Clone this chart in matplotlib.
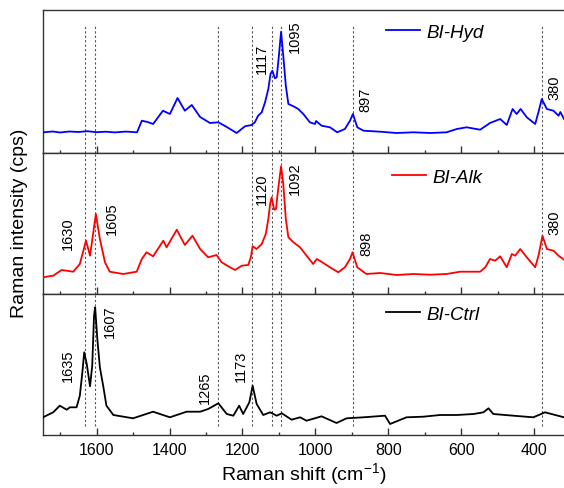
import matplotlib
matplotlib.use("Agg")
import matplotlib.pyplot as plt
from matplotlib.ticker import MultipleLocator

plt.rcParams['font.family'] = ['Liberation Sans', 'DejaVu Sans']
plt.rcParams['mathtext.fontset'] = 'custom'
plt.rcParams['mathtext.rm'] = 'Liberation Sans'
plt.rcParams['mathtext.default'] = 'regular'

# ---------------- data ----------------
hyd_x = [1747, 1720, 1700, 1675, 1650, 1625, 1600, 1575, 1550, 1520, 1489, 1476, 1460, 1445,
         1418, 1399, 1378, 1358, 1339, 1316, 1289, 1266, 1243, 1216, 1193, 1175, 1166, 1157,
         1147, 1138, 1129, 1123, 1118, 1111, 1106, 1100, 1094, 1088, 1081, 1074, 1060, 1047,
         1033, 1015, 1001, 998, 983, 960, 940, 919, 905, 897, 885, 868, 822, 777, 731, 685,
         640, 612, 585, 548, 521, 493, 475, 459, 448, 437, 420, 397, 388, 379, 365, 347, 333,
         328, 318]
hyd_y = [20.7, 21.5, 20.5, 21.5, 21, 21.8, 20.8, 21.3, 20.6, 21.4, 20.7, 32.3, 31, 29,
         42.3, 39, 55, 42.3, 48, 36, 30, 30.7, 26, 20, 26.7, 28, 30.7, 37.3,
         40.7, 50.7, 64, 79, 82.3, 74.7, 75.7, 97.3, 121.3, 97.3, 67.3, 49, 46.7, 44,
         39, 30.7, 29, 32, 27.3, 25.7, 20.7, 24, 32.3, 39, 25.7, 22.3, 21.3, 20, 20.7, 20,
         20.7, 24, 25.7, 23.3, 30, 34, 28, 44, 39, 44, 35.7, 29, 41, 54, 44, 42.3, 37.3,
         41, 34]

alk_x = [1747, 1719, 1696, 1664, 1646, 1629, 1618, 1602, 1591, 1577, 1564, 1527, 1490,
         1476, 1463, 1445, 1417, 1408, 1380, 1358, 1337, 1316, 1294, 1271, 1257, 1234,
         1220, 1202, 1184, 1177, 1172, 1161, 1147, 1136, 1129, 1124, 1120, 1113, 1108,
         1102, 1094, 1088, 1081, 1074, 1060, 1042, 1024, 1006, 996, 978, 960, 937, 919,
         905, 898, 885, 860, 822, 777, 731, 685, 640, 603, 548, 534, 521, 507, 493, 475,
         461, 452, 438, 420, 397, 388, 377, 365, 347, 333, 318]
alk_y = [16.7, 18.3, 24, 22.3, 30, 53.3, 38.3, 80, 55, 31.7, 22.3, 20, 22.3,
         35, 41.7, 37.7, 53.3, 46.7, 64.3, 49, 58.3, 45, 36.7, 39, 31.7, 26.7,
         24, 28.3, 29, 36.7, 47.7, 45, 50, 60, 75, 90, 96.7, 84.3, 85,
         105, 127.7, 110, 75, 56.7, 51.7, 46.7, 38.3, 30, 35, 31, 26.7, 21.7, 26.7,
         35, 41.7, 26.7, 20, 21, 19, 20, 19.3, 20, 22.3, 22.3, 26.7, 35, 33.3, 37.7, 26.7,
         40, 38.3, 45, 36.7, 26.7, 38.3, 58.3, 45, 43.3, 38.3, 34.3]

ctrl_x = [1747, 1719, 1701, 1682, 1673, 1655, 1646, 1639, 1634, 1627, 1618, 1612, 1607,
          1604, 1598, 1591, 1582, 1573, 1554, 1500, 1445, 1399, 1353, 1316, 1294, 1266,
          1243, 1225, 1209, 1198, 1181, 1172, 1161, 1143, 1124, 1106, 1092, 1065, 1042,
          1024, 983, 942, 914, 868, 809, 795, 750, 704, 658, 612, 566, 539, 525, 512, 457,
          402, 370, 318]
ctrl_y = [17.7, 22.7, 29.3, 25.3, 27.7, 27.7, 39.3, 62.7, 82.7, 71, 48.7, 69.3, 119.3,
          127.7, 96, 67.7, 49.3, 29.3, 20, 16.7, 23.3, 17.7, 23.3, 23.3, 26, 31.7,
          21, 19.3, 29.3, 21, 32.7, 49.3, 31, 20, 22.7, 19.3, 21.7, 15.3, 17.7,
          14.3, 18.7, 12, 16.7, 17.7, 19.3, 11, 17.7, 18.3, 20, 20, 21, 22.7, 26.7, 21, 19.3,
          17.7, 22.7, 17.7]

series_names = ['BI-Hyd', 'BI-Alk', 'BI-Ctrl']
series_colors = ['#0000ff', '#ff0000', '#000000']

ref_lines = [1633, 1604, 1266, 1173, 1119, 1094, 897, 379]

hyd_labels = [('1117', 1147, 95), ('1095', 1056, 117.5), ('897', 864, 54), ('380', 345, 66.5)]
alk_labels = [('1630', 1678, 61), ('1605', 1559, 76), ('1120', 1147, 106),
              ('1092', 1056, 116), ('898', 861, 51.5), ('380', 345, 72.5)]
ctrl_labels = [('1635', 1678, 70), ('1607', 1563, 114.3), ('1265', 1303, 48.5), ('1173', 1205, 70)]

# ---------------- figure ----------------
W, H = 564, 489
fig = plt.figure(figsize=(W / 100, H / 100), dpi=100)

def ax_rect(top_px, bot_px):
    left = 43 / W
    return [left, 1 - bot_px / H, 1.0 - left, (bot_px - top_px) / H]

panels = [(11, 154), (154, 295), (295, 436)]
xs = [hyd_x, alk_x, ctrl_x]
ys = [hyd_y, alk_y, ctrl_y]
labels = [hyd_labels, alk_labels, ctrl_labels]
vspan = [(0.0, (154 - 27) / 143), (0.0, 1.0), ((436 - 427) / 141, 1.0)]
legend_pos = [(386 / W, (1 - 33 / H)), (392 / W, (1 - 178 / H)), (386 / W, (1 - 315 / H))]

axes = []
for i, (t, b) in enumerate(panels):
    ax = fig.add_axes(ax_rect(t, b))
    axes.append(ax)
    for xv in ref_lines:
        ax.axvline(xv, ymin=vspan[i][0], ymax=vspan[i][1], color='#555555',
                   lw=0.8, ls=(0, (2, 2)), zorder=1)
    ax.plot(xs[i], ys[i], color=series_colors[i], lw=1.3, label=series_names[i], zorder=3)
    for txt, xv, yv in labels[i]:
        ax.text(xv, yv, txt, rotation=90, ha='center', va='center', fontsize=10.5)
    ax.set_xlim(1747, 318)
    ax.set_ylim(0, (b - t))
    ax.set_yticks([])
    ax.spines['right'].set_visible(False)
    for s in ['left', 'bottom', 'top']:
        ax.spines[s].set_linewidth(1.0)
        ax.spines[s].set_color('#333333')
    ax.xaxis.set_major_locator(MultipleLocator(200))
    ax.xaxis.set_minor_locator(MultipleLocator(100))
    ax.tick_params(axis='x', which='major', direction='in', length=5, width=1.0,
                   color='#333333', labelsize=11.5, pad=5)
    ax.tick_params(axis='x', which='minor', direction='in', length=2.5, width=1.0,
                   color='#333333')
    if i < 2:
        ax.tick_params(axis='x', labelbottom=False)
    leg = ax.legend(loc='center left', bbox_to_anchor=legend_pos[i],
                    bbox_transform=fig.transFigure, frameon=False,
                    handlelength=1.8, handletextpad=0.35, borderaxespad=0, borderpad=0,
                    prop={'style': 'italic', 'size': 13.5})

axes[2].set_xlabel('Raman shift (cm$^{-1}$)', fontsize=14, labelpad=2)
fig.text(20 / W, 1 - 223 / H, 'Raman intensity (cps)', rotation=90, ha='center', va='center',
         fontsize=14)

fig.savefig('out.png', dpi=100)
